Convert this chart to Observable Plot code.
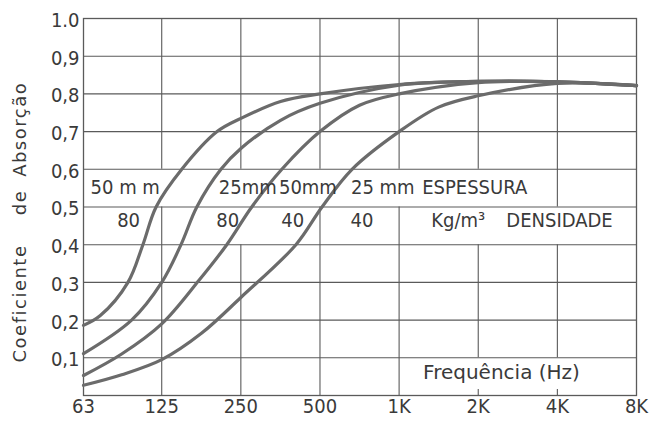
<!DOCTYPE html>
<html><head><meta charset="utf-8">
<script src="https://cdn.jsdelivr.net/npm/d3@7"></script>
<script src="https://cdn.jsdelivr.net/npm/@observablehq/plot@0.6"></script>
<style>
body{margin:0;background:#fff;}
#chart svg{display:block;}
</style></head><body><div id="chart"></div>
<script>
// ---- data ----
const freqTicks = [63, 125, 250, 500, 1000, 2000, 4000, 8000];
const freqLabels = ["63", "125", "250", "500", "1K", "2K", "4K", "8K"];
const yTicks = [0.1, 0.2, 0.3, 0.4, 0.5, 0.6, 0.7, 0.8, 0.9, 1.0];
const yLabels = ["0,1", "0,2", "0,3", "0,4", "0,5", "0,6", "0,7", "0,8", "0,9", "1.0"];

// 50 mm, 80 kg/m3
const fA = [63, 73, 93, 106, 119, 149, 203, 250, 354, 500, 1000, 2000, 4000, 8000];
const vA = [0.186, 0.212, 0.30, 0.40, 0.50, 0.60, 0.70, 0.735, 0.78, 0.80, 0.825, 0.833, 0.832, 0.822];
// 25 mm, 80 kg/m3
const fB = [63, 96, 125, 148, 170, 210, 250, 354, 500, 1000, 2000, 4000, 8000];
const vB = [0.111, 0.20, 0.30, 0.40, 0.50, 0.60, 0.655, 0.73, 0.775, 0.823, 0.833, 0.832, 0.822];
// 50 mm, 40 kg/m3
const fC = [63, 88, 125, 173, 221, 275, 358, 500, 707, 1000, 2000, 4000, 8000];
const vC = [0.053, 0.11, 0.19, 0.305, 0.40, 0.50, 0.60, 0.70, 0.77, 0.80, 0.83, 0.832, 0.822];
// 25 mm, 40 kg/m3
const fD = [63, 88, 125, 177, 250, 405, 509, 662, 1000, 1414, 2000, 4000, 8000];
const vD = [0.027, 0.055, 0.095, 0.165, 0.26, 0.40, 0.50, 0.60, 0.70, 0.765, 0.795, 0.828, 0.822];

const seriesNames = ["50mm-80", "25mm-80", "50mm-40", "25mm-40"];
const seriesF = [fA, fB, fC, fD];
const seriesV = [vA, vB, vC, vD];

const thicknessLabels = ["50 m m", "25mm", "50mm", "25 mm", "ESPESSURA"];
const densityLabels = ["80", "80", "40", "40"];
const densityUnitLabels = ["Kg/m³", "DENSIDADE"];
const xTitle = "Frequência (Hz)";
const yTitleWords = ["Absorção", "de", "Coeficiente"];

// ---- build tables ----
const rows = [];
seriesNames.forEach((s, i) => seriesF[i].forEach((f, j) => rows.push({s, f, v: seriesV[i][j]})));

// grid: vertical lines interrupted where the label table cells span
const vGrid = [
  {f: 125, spans: [[0, 0.5], [0.6, 1]]},
  {f: 250, spans: [[0, 0.4], [0.6, 1]]},
  {f: 500, spans: [[0, 0.5], [0.6, 1]]},
  {f: 1000, spans: [[0, 0.5], [0.6, 1]]},
  {f: 2000, spans: [[0, 0.016], [0.1, 0.4], [0.6, 1]]},
  {f: 4000, spans: [[0, 0.016], [0.1, 0.4], [0.5, 1]]}
];
const vSegs = vGrid.flatMap(g => g.spans.map(([a, b]) => ({f: g.f, y1: a, y2: b})));

const font = "'DejaVu Sans Condensed', 'DejaVu Sans', sans-serif";
const ink = "#3a3a3a";
const gridColor = "#5a5a5a";

const chart = Plot.plot({
  width: 651,
  height: 423,
  marginLeft: 83,
  marginRight: 15,
  marginTop: 18,
  marginBottom: 28,
  style: {fontFamily: font, background: "#fff"},
  x: {type: "log", domain: [63, 8000], axis: null},
  y: {domain: [0, 1], axis: null},
  marks: [
    Plot.ruleY(yTicks.slice(0, 9), {stroke: gridColor, strokeWidth: 1.1}),
    Plot.ruleX(vSegs, {x: "f", y1: "y1", y2: "y2", stroke: gridColor, strokeWidth: 1.1}),
    Plot.frame({stroke: gridColor, strokeWidth: 1.3}),
    Plot.line(rows, {x: "f", y: "v", z: "s", stroke: "#6b6b6b", strokeWidth: 3.2, curve: "catmull-rom"}),
    // tick labels
    Plot.text(freqTicks, {x: d => d, frameAnchor: "bottom", text: (d, i) => freqLabels[i], dy: 17, fontSize: 20, fill: ink}),
    Plot.text(yTicks, {y: d => d, frameAnchor: "left", text: (d, i) => yLabels[i], textAnchor: "end", dx: -4, dy: 2, fontSize: 20, fill: ink}),
    // y title
    Plot.text(yTitleWords, {y: [0.706, 0.512, 0.244], frameAnchor: "left", textAnchor: "middle", dx: -63, rotate: -90, text: d => d, fontSize: 18, fill: ink, fontFamily: "'DejaVu Sans', sans-serif"}),
    // thickness row
    Plot.text(thicknessLabels, {x: [67, 206, 349, 656, 1224], y: [0.552, 0.552, 0.552, 0.552, 0.552], text: d => d, textAnchor: "start", fontSize: 20, fill: ink}),
    // density row
    Plot.text(densityLabels, {x: [93.5, 223, 394, 722], y: [0.464, 0.464, 0.464, 0.464], text: d => d, fontSize: 20, fill: ink}),
    Plot.text(densityUnitLabels, {x: [1325, 2557], y: [0.464, 0.464], text: d => d, textAnchor: "start", fontSize: 20, fill: ink}),
    // x title
    Plot.text([xTitle], {x: [1234], y: [0.061], text: d => d, textAnchor: "start", fontSize: 20, fill: ink, fontFamily: "'DejaVu Sans', sans-serif"})
  ]
});
document.getElementById("chart").appendChild(chart);
d3.select(chart).selectAll("text").filter(function () { return yTitleWords.includes(this.textContent); })
  .style("letter-spacing", "1.5px");
</script></body></html>
